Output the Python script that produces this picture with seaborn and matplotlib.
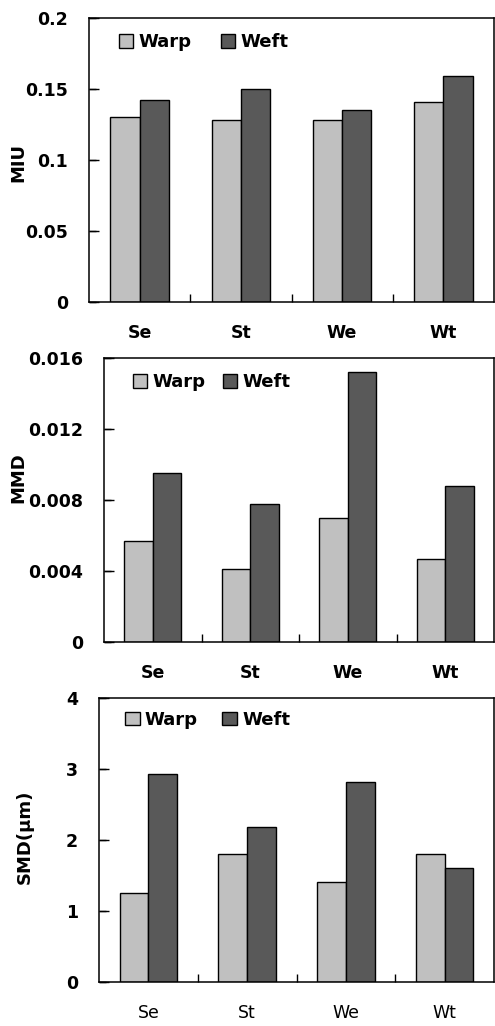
import matplotlib
matplotlib.use("Agg")
import matplotlib.pyplot as plt
import matplotlib.transforms as mtransforms
import seaborn as sns
import pandas as pd
from matplotlib.ticker import FixedLocator, FixedFormatter

# Fabric samples and thread directions
samples = ["Se", "St", "We", "Wt"]
directions = ["Warp", "Weft"]

# Mean of coefficient of friction
miu_warp = [0.130, 0.128, 0.128, 0.141]
miu_weft = [0.1425, 0.150, 0.135, 0.159]

# Mean deviation of friction coefficient
mmd_warp = [0.0057, 0.0041, 0.0070, 0.0047]
mmd_weft = [0.0095, 0.0078, 0.0152, 0.0088]

# Geometric roughness (micrometres)
smd_warp = [1.26, 1.80, 1.41, 1.80]
smd_weft = [2.93, 2.18, 2.81, 1.60]

colors = {"Warp": "#c0c0c0", "Weft": "#595959"}

sns.set_theme(style="white", rc={
    "xtick.direction": "in", "ytick.direction": "in",
    "ytick.left": True,
    "xtick.color": "black", "ytick.color": "black",
    "text.color": "black", "axes.labelcolor": "black",
    "axes.edgecolor": "black",
})
plt.rcParams["font.family"] = ["DejaVu Sans"]

W, H = 495, 1026
fig = plt.figure(figsize=(W / 100, H / 100), dpi=100)


def rect(left, top, bottom, right=494):
    return [left / W, 1 - bottom / H, (right - left) / W, (bottom - top) / H]


def long_form(warp, weft):
    rows = []
    for s, a, b in zip(samples, warp, weft):
        rows.append({"sample": s, "dir": "Warp", "value": a})
        rows.append({"sample": s, "dir": "Weft", "value": b})
    return pd.DataFrame(rows)


panels = [
    dict(pos=rect(89, 18, 302), warp=miu_warp, weft=miu_weft, ylabel="MIU",
         ylim=(0, 0.2), yt=[0, 0.05, 0.1, 0.15, 0.2],
         ytl=["0", "0.05", "0.1", "0.15", "0.2"], xw="bold", ylx=18, yly=163,
         leg=(0.074, 0.915), colsp=1.6),
    dict(pos=rect(104, 358, 642), warp=mmd_warp, weft=mmd_weft, ylabel="MMD",
         ylim=(0, 0.016), yt=[0, 0.004, 0.008, 0.012, 0.016],
         ytl=["0", "0.004", "0.008", "0.012", "0.016"], xw="bold", ylx=18,
         yly=478, leg=(0.074, 0.915), colsp=0.95),
    dict(pos=rect(99, 698, 982), warp=smd_warp, weft=smd_weft, ylabel="SMD(μm)",
         ylim=(0, 4), yt=[0, 1, 2, 3, 4], ytl=["0", "1", "2", "3", "4"],
         xw="normal", ylx=25, yly=837, leg=(0.066, 0.923), colsp=1.35),
]

for p in panels:
    pos = p["pos"]
    ax = fig.add_axes(pos)
    df = long_form(p["warp"], p["weft"])
    sns.barplot(data=df, x="sample", y="value", hue="dir", order=samples,
                hue_order=directions, palette=colors, width=0.58,
                edgecolor="black", linewidth=1.0, saturation=1, ax=ax)
    ax.set_xlim(-0.5, 3.5)
    ax.set_ylim(*p["ylim"])
    ax.yaxis.set_major_locator(FixedLocator(p["yt"]))
    ax.yaxis.set_major_formatter(FixedFormatter(p["ytl"]))
    ax.xaxis.set_minor_locator(FixedLocator([0.5, 1.5, 2.5]))
    ax.set_xlabel("")
    ax.set_ylabel("")
    fig.text(p["ylx"] / W, 1 - p["yly"] / H, p["ylabel"], rotation=90,
             fontsize=13, fontweight="bold", ha="center", va="center")
    for sp in ax.spines.values():
        sp.set_visible(True)
        sp.set_color("black")
        sp.set_linewidth(1.1)
    leg = ax.legend(loc="center left", ncol=2, frameon=False,
                    handlelength=0.8, handleheight=0.8, handletextpad=0.3,
                    columnspacing=p["colsp"], bbox_to_anchor=p["leg"],
                    borderaxespad=0, borderpad=0,
                    prop={"weight": "bold", "size": 13})
    for h in leg.legend_handles:
        h.set_edgecolor("black")
        h.set_linewidth(1.0)

    # tick styling: inward value ticks, group separators on the category axis
    ax.tick_params(axis="x", which="major", length=0, pad=16, labelsize=12.5)
    ax.tick_params(axis="x", which="minor", direction="in", length=6, width=1,
                   color="black", bottom=True)
    ax.tick_params(axis="y", which="major", direction="in", length=7, width=1,
                   color="black", pad=15, left=True, labelsize=12.5)
    for lab in ax.get_yticklabels():
        lab.set_fontweight("bold")
    for lab in ax.get_xticklabels():
        lab.set_fontweight(p["xw"])

    # inward tick marks on the value axis, drawn along the left spine
    tick_len = 7 / (pos[2] * W)
    trans = mtransforms.blended_transform_factory(ax.transAxes, ax.transData)
    for v in p["yt"]:
        ax.plot([0, tick_len], [v, v], transform=trans, color="black", lw=1,
                clip_on=False, zorder=3, solid_capstyle="butt")

fig.savefig("out.png", dpi=100, facecolor="white")
